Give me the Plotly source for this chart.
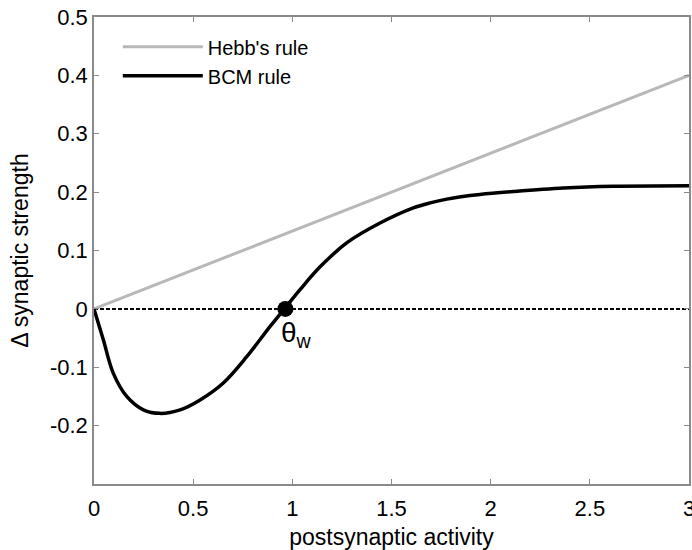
import plotly.graph_objects as go

# Data
x_hebb = [0.0, 3.0]
y_hebb = [0.0, 0.4]

x_bcm = [0.0, 0.047, 0.097, 0.165, 0.249, 0.333, 0.434, 0.535, 0.652, 0.770, 0.888, 0.955,
         1.039, 1.14, 1.274, 1.442, 1.61, 1.70, 1.779, 1.85, 1.946, 2.115, 2.367, 2.62, 3.0]
y_bcm = [0.0, -0.053, -0.110, -0.150, -0.173, -0.179, -0.173, -0.156, -0.127, -0.082, -0.030, -0.002,
         0.033, 0.072, 0.113, 0.147, 0.173, 0.182, 0.188, 0.192, 0.196, 0.201, 0.207, 0.210, 0.211]

x_zero = [0.0, 3.0]
y_zero = [0.0, 0.0]

theta_w = 0.965

x_ticks = [0, 0.5, 1, 1.5, 2, 2.5, 3]
x_ticklabels = ["0", "0.5", "1", "1.5", "2", "2.5", "3"]
y_ticks = [-0.2, -0.1, 0, 0.1, 0.2, 0.3, 0.4, 0.5]
y_ticklabels = ["-0.2", "-0.1", "0", "0.1", "0.2", "0.3", "0.4", "0.5"]

FONT = "Liberation Sans, Arial"

fig = go.Figure()
fig.add_trace(go.Scatter(x=x_zero, y=y_zero, mode="lines", showlegend=False,
                         line=dict(color="black", width=2, dash="4px,2px"), hoverinfo="skip"))
fig.add_trace(go.Scatter(x=x_hebb, y=y_hebb, mode="lines", name="Hebb's rule",
                         line=dict(color="#b8b8b8", width=3)))
fig.add_trace(go.Scatter(x=x_bcm, y=y_bcm, mode="lines", name="BCM rule",
                         line=dict(color="black", width=3.5, shape="spline", smoothing=1.0)))
fig.add_trace(go.Scatter(x=[theta_w], y=[0], mode="markers", showlegend=False,
                         marker=dict(color="black", size=16)))

fig.add_annotation(x=theta_w, y=0, xref="x", yref="y", text="θ<sub>w</sub>",
                   showarrow=False, xanchor="left", yanchor="top", xshift=-6, yshift=-6,
                   font=dict(size=28, color="black", family=FONT))

axis_common = dict(showline=True, linecolor="#8a8a8a", linewidth=1.5, mirror="ticks",
                   ticks="inside", ticklen=5, tickcolor="#8a8a8a", tickwidth=1,
                   showgrid=False, zeroline=False, automargin=False,
                   ticklabeloverflow="allow",
                   tickfont=dict(size=22, color="black", family=FONT))

fig.update_xaxes(range=[0, 3], tickvals=x_ticks, ticktext=x_ticklabels,
                 title=dict(text="postsynaptic activity",
                            font=dict(size=23, color="black", family=FONT)),
                 ticklabelstandoff=4, **axis_common)
fig.update_yaxes(range=[-0.3, 0.5], tickvals=y_ticks, ticktext=y_ticklabels,
                 title=dict(text="Δ synaptic strength",
                            font=dict(size=23, color="black", family=FONT)),
                 ticklabelstandoff=0, **axis_common)

fig.update_layout(
    width=692, height=550,
    margin=dict(l=94, r=3, t=17, b=66),
    paper_bgcolor="white", plot_bgcolor="white",
    font=dict(family=FONT, color="black"),
    legend=dict(x=0.04, y=0.978, xanchor="left", yanchor="top", bgcolor="rgba(0,0,0,0)",
                font=dict(size=20, color="black"), itemwidth=80, tracegroupgap=0),
)

# remove the default 8px page margin so the 692x550 figure fills the window
fig.write_html("out.html", config={"displayModeBar": False},
               post_script="document.body.style.margin='0px';")
